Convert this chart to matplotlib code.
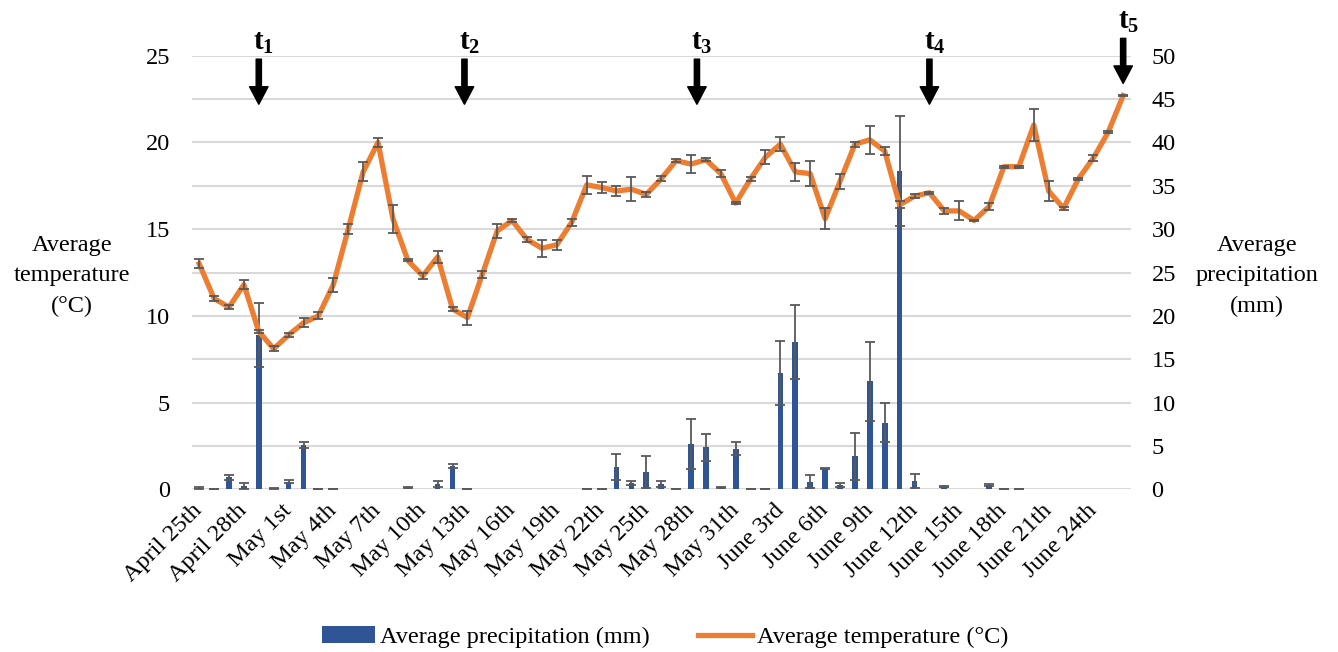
import matplotlib.pyplot as plt
import matplotlib.transforms as mtransforms
import numpy as np

plt.rcParams["font.family"] = ["Liberation Serif", "DejaVu Serif"]
plt.rcParams["mathtext.fontset"] = "custom"
plt.rcParams["mathtext.rm"] = "Liberation Serif"
plt.rcParams["mathtext.bf"] = "Liberation Serif:bold"

# daily series, April 25th .. June 26th (63 days)
temperature = [13.0, 11.0, 10.5, 11.8, 9.1, 8.1, 8.9, 9.6, 10.0, 11.8,
               15.0, 18.3, 20.0, 15.6, 13.2, 12.3, 13.4, 10.4, 9.9, 12.4,
               14.9, 15.5, 14.4, 13.9, 14.1, 15.4, 17.55, 17.4, 17.2, 17.3,
               17.0, 17.9, 18.95, 18.75, 19.0, 18.2, 16.5, 17.9, 19.15, 19.9,
               18.3, 18.2, 15.6, 17.75, 19.9, 20.15, 19.5, 16.4, 16.9, 17.1,
               16.05, 16.05, 15.5, 16.3, 18.6, 18.6, 21.0, 17.2, 16.2, 17.9,
               19.1, 20.6, 22.7]
temperature_err = [0.25, 0.12, 0.12, 0.25, 0.1, 0.15, 0.1, 0.25, 0.2, 0.4,
                   0.3, 0.55, 0.25, 0.8, 0.05, 0.15, 0.35, 0.1, 0.4, 0.2,
                   0.4, 0.1, 0.15, 0.5, 0.3, 0.2, 0.5, 0.3, 0.3, 0.7,
                   0.15, 0.15, 0.1, 0.5, 0.1, 0.2, 0.05, 0.1, 0.4, 0.4,
                   0.5, 0.7, 0.6, 0.45, 0.15, 0.8, 0.25, 0.2, 0.1, 0.05,
                   0.15, 0.55, 0.05, 0.2, 0.05, 0.05, 0.9, 0.6, 0.1, 0.05,
                   0.15, 0.05, 0.05]
nan = float("nan")
precipitation = [0.15, 0, 1.4, 0.4, 17.8, 0.1, 0.9, 5.1, 0, 0,
                 0, 0, 0, 0, 0.2, 0, 0.6, 2.7, 0, 0,
                 0, 0, 0, 0, 0, 0, 0, 0, 2.55, 0.75,
                 1.95, 0.6, 0, 5.25, 4.85, 0.25, 4.7, 0, 0, 13.4,
                 17.0, 0.85, 2.4, 0.5, 3.8, 12.45, 7.7, 36.7, 1.0, 0,
                 0.35, 0, 0, 0.5, 0, 0, 0, 0, 0, 0,
                 0, 0, 0]
precipitation_err = [0.1, 0, 0.3, 0.35, 3.7, 0.05, 0.2, 0.3, 0, 0,
                     nan, nan, nan, nan, 0.1, nan, 0.35, 0.25, 0, nan,
                     nan, nan, nan, nan, nan, nan, 0, 0, 1.5, 0.25,
                     1.85, 0.35, 0, 2.85, 1.55, 0.05, 0.7, 0, 0, 3.65,
                     4.25, 0.75, 0.1, 0.2, 2.7, 4.55, 2.3, 6.35, 0.8, nan,
                     0.05, nan, nan, 0.1, 0, 0, nan, nan, nan, nan,
                     nan, nan, nan]
tick_labels = ["April 25th", "April 28th", "May 1st", "May 4th", "May 7th",
               "May 10th", "May 13th", "May 16th", "May 19th", "May 22th",
               "May 25th", "May 28th", "May 31th", "June 3rd", "June 6th",
               "June 9th", "June 12th", "June 15th", "June 18th", "June 21th",
               "June 24th"]
sample_days = [4, 17.8, 33.4, 49, 62]
sample_names = ["1", "2", "3", "4", "5"]

BLUE = "#2F5597"
ORANGE = "#ED7D31"
ERR = "#595959"
GRID = "#D9D9D9"
FS = 17.5

x = np.arange(len(temperature))
prec = np.array(precipitation)
perr = np.array(precipitation_err)
has_err = ~np.isnan(perr)

fig = plt.figure(figsize=(13.38, 6.52), dpi=100)
ax = fig.add_axes([0.1433, 0.2495, 0.7017, 0.6651])
ax2 = ax.twinx()

# precipitation bars + grid on the right axis (drawn behind)
bars = ax2.bar(x, prec, width=0.38, color=BLUE, zorder=2,
               label="Average precipitation (mm)")
ax2.errorbar(x[has_err], prec[has_err], yerr=perr[has_err], fmt="none",
             ecolor=ERR, elinewidth=1.3, capsize=3.5, capthick=1.3, zorder=3)
ax2.set_ylim(0, 50)
ax2.set_yticks(np.arange(0, 51, 5))
ax2.grid(axis="y", color=GRID, linewidth=1.5, zorder=0)
ax2.set_axisbelow(True)

# temperature line on the left axis (drawn on top)
ax.set_zorder(ax2.get_zorder() + 1)
ax.patch.set_visible(False)
line, = ax.plot(x, temperature, color=ORANGE, linewidth=3.8, zorder=2,
                solid_joinstyle="round", label="Average temperature (°C)")
ax.errorbar(x, temperature, yerr=temperature_err, fmt="none",
            ecolor=ERR, elinewidth=1.3, capsize=3.5, capthick=1.3, zorder=3)
ax.set_ylim(0, 25)
ax.set_yticks(np.arange(0, 26, 5))
ax.set_xlim(-0.5, len(temperature) - 0.5)
ax.set_xticks(np.arange(0, len(temperature), 3))
ax.set_xticklabels(tick_labels, rotation=45, ha="right", va="center",
                   rotation_mode="anchor")
shift = mtransforms.ScaledTranslation(4 / 100, -4 / 100, fig.dpi_scale_trans)
for lab in ax.get_xticklabels():
    lab.set_transform(lab.get_transform() + shift)

for a in (ax, ax2):
    for s in a.spines.values():
        s.set_visible(False)
ax.tick_params(axis="x", length=0, labelsize=FS, pad=13)
ax.tick_params(axis="y", length=0, labelsize=FS, pad=15.5)
ax2.tick_params(axis="y", length=0, labelsize=FS, pad=15)

# sampling arrows t1..t5
arrow_top = [24.8, 24.8, 24.8, 24.8, 26.0]
arrow_tip = [22.2, 22.2, 22.2, 22.2, 23.4]
label_y = [25.75, 25.75, 25.75, 25.75, 26.95]
for d, name, top, tip, ly in zip(sample_days, sample_names, arrow_top,
                                 arrow_tip, label_y):
    ax.annotate("", xy=(d, tip), xytext=(d, top), annotation_clip=False,
                arrowprops=dict(arrowstyle="simple,head_width=0.95,"
                                "head_length=0.9,tail_width=0.27",
                                color="black", mutation_scale=14,
                                shrinkA=0, shrinkB=0))
    ax.text(d + 0.35, ly, r"$\mathbf{t}_\mathbf{%s}$" % name, ha="center",
            va="center", fontsize=21, clip_on=False)

fig.text(0.054, 0.577, "Average\ntemperature\n(°C)", ha="center",
         va="center", fontsize=FS, linespacing=1.6)
fig.text(0.9395, 0.577, "Average\nprecipitation\n(mm)", ha="center",
         va="center", fontsize=FS, linespacing=1.6)

fig.legend([bars, line], ["Average precipitation (mm)",
                          "Average temperature (°C)"],
           loc="center", bbox_to_anchor=(0.497, 0.023), ncol=2, frameon=False,
           fontsize=FS, handlelength=2.2, handletextpad=0.2,
           columnspacing=2.0)

fig.savefig("out.png", dpi=100)
